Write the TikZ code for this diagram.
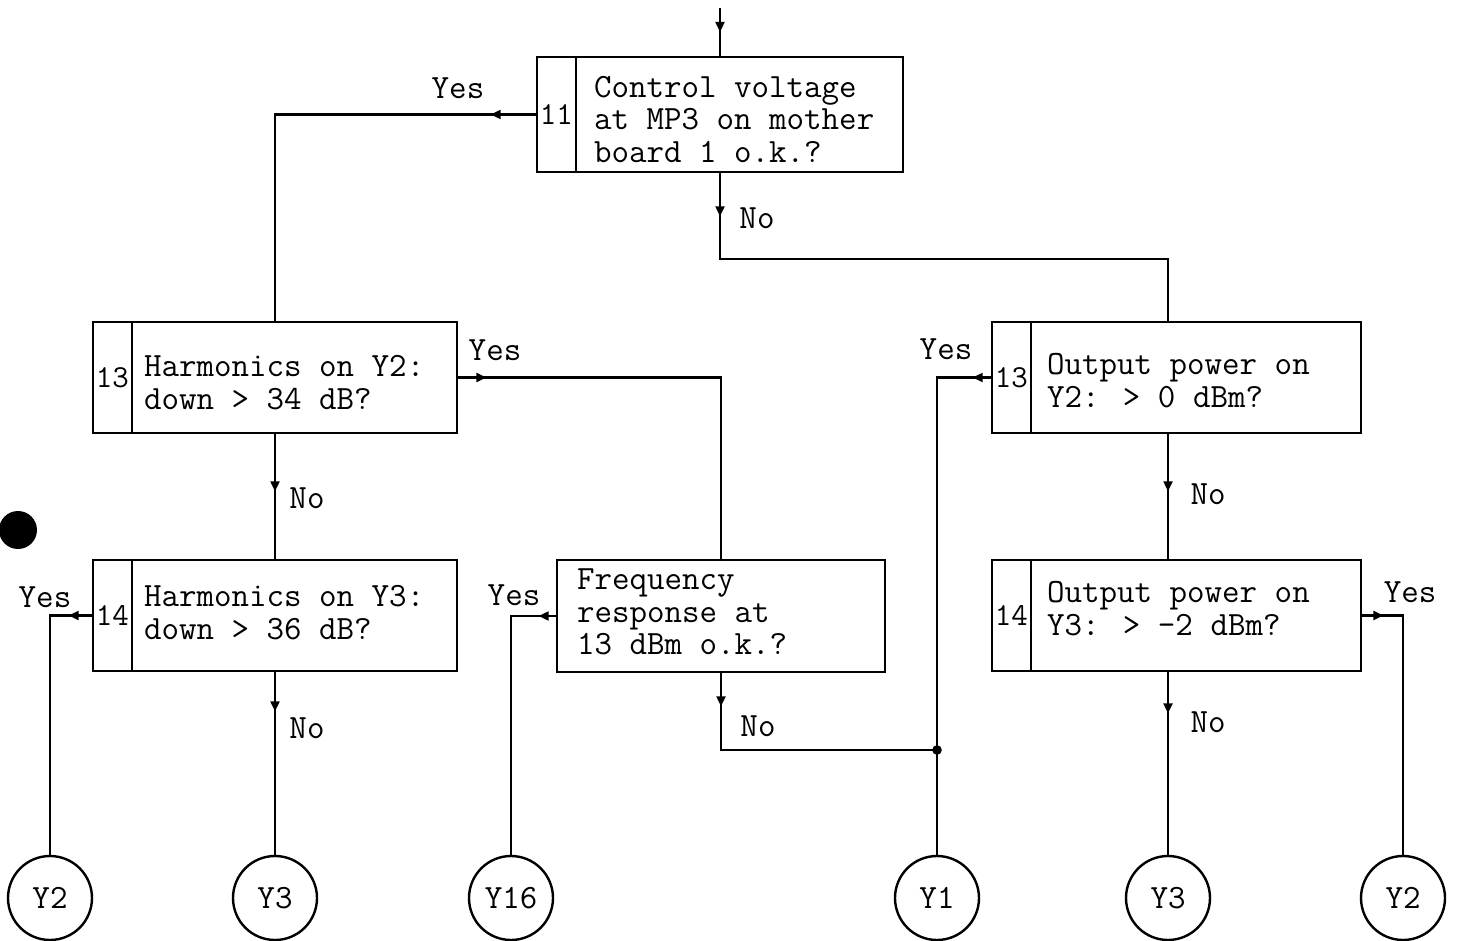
\documentclass[tikz,border=0pt]{standalone}
\usepackage{fontspec}
\usetikzlibrary{arrows.meta,decorations.markings,calc}
\begin{document}
\begin{tikzpicture}[x=0.5pt,y=-0.5pt,
  every node/.style={font=\ttfamily\fontsize{17pt}{16.25pt}\selectfont},
  qbox/.style={draw, line width=1.3pt, inner sep=0pt, minimum height=55.5pt},
  numcell/.style={draw, line width=1.1pt, inner sep=0pt, minimum width=19.5pt, anchor=north west, font=\ttfamily\fontsize{16pt}{16pt}\selectfont},
  qtext/.style={align=left, inner sep=0pt, anchor=west},
  term/.style={draw, circle, line width=1.2pt, minimum size=42pt, inner sep=0pt, font=\ttfamily\fontsize{17pt}{17pt}\selectfont},
  lbl/.style={inner sep=0pt},
  conn/.style={line width=1.1pt},
  tipat/.style={postaction={decorate}, decoration={markings, mark=at position #1 with {\arrow{Triangle[length=5pt,width=4.5pt]}}}},
]
\useasboundingbox (0,0) rectangle (1457,941);

% boxes
\node[qbox, minimum width=183pt, minimum height=57.5pt] (b11) at (720,114.5) {};
\node[numcell, minimum height=57.5pt] (n11) at (b11.north west) {11};
\node[qtext] (q11) at ($(b11.west)+(58,5)$) {Control voltage\\at MP3 on mother\\board 1 o.k.?};

\node[qbox, minimum width=182pt] (b13l) at (275,377.5) {};
\node[numcell, minimum height=55.5pt] (n13l) at (b13l.north west) {13};
\node[qtext] (q13l) at ($(b13l.west)+(52,5)$) {Harmonics on Y2:\\down > 34 dB?};

\node[qbox, minimum width=182pt] (b14l) at (275,615.5) {};
\node[numcell, minimum height=55.5pt] (n14l) at (b14l.north west) {14};
\node[qtext] (q14l) at ($(b14l.west)+(52,-3)$) {Harmonics on Y3:\\down > 36 dB?};

\node[qbox, minimum width=164pt, minimum height=56pt] (bf) at (721,616) {};
\node[qtext] (qf) at ($(bf.west)+(21,-4)$) {Frequency\\response at\\13 dBm o.k.?};

\node[qbox, minimum width=184.5pt] (b13r) at (1176.5,377.5) {};
\node[numcell, minimum height=55.5pt] (n13r) at (b13r.north west) {13};
\node[qtext] (q13r) at ($(b13r.west)+(56,3)$) {Output power on\\Y2: > 0 dBm?};

\node[qbox, minimum width=184.5pt] (b14r) at (1176.5,615.5) {};
\node[numcell, minimum height=55.5pt] (n14r) at (b14r.north west) {14};
\node[qtext] (q14r) at ($(b14r.west)+(56,-7)$) {Output power on\\Y3: > -2 dBm?};

% terminals
\node[term] (c2l) at (50,898) {Y2};
\node[term] (c3l) at (275,898) {Y3};
\node[term] (c16) at (511,898) {Y16};
\node[term] (c1) at (937,898) {Y1};
\node[term] (c3r) at (1168,898) {Y3};
\node[term] (c2r) at (1403,898) {Y2};

\coordinate (entry) at (720,8);
\coordinate (j) at (937,750);

% connectors
\draw[conn, tipat=12pt] (entry) -- (b11.north);
\draw[conn, tipat=22.5pt] (b11.west) -| (b13l.north);
\draw[conn, tipat=21.5pt] (b11.south) -- ++(0,86) -| (b13r.north -| c3r.north);
\draw[conn, tipat=28.5pt] (b13l.south) -- (b14l.north);
\draw[conn, tipat=14pt] (b13l.east) -| (bf.north);
\draw[conn, tipat=11.5pt] (b14l.west) -| (c2l.north);
\draw[conn, tipat=19.5pt] (b14l.south) -- (c3l.north);
\draw[conn, tipat=8.5pt] (bf.west) -| (c16.north);
\draw[conn, tipat=16.5pt] (bf.south) |- (j);
\draw[conn, tipat=9pt] (b13r.west) -| (c1.north);
\draw[conn, tipat=28.5pt] (b13r.south -| c3r.north) -- (b14r.north -| c3r.north);
\draw[conn, tipat=10.5pt] (b14r.east) -| (c2r.north);
\draw[conn, tipat=20.5pt] (b14r.south -| c3r.north) -- (c3r.north);
\fill (j) circle[radius=2.4pt];

% labels
\node[lbl] (y11) at (458,88) {Yes};
\node[lbl] (n11l) at (757,218) {No};
\node[lbl] (n13ll) at (307,498) {No};
\node[lbl] (y13l) at (495,350) {Yes};
\node[lbl] (y14l) at (45,597) {Yes};
\node[lbl] (n14ll) at (307,728) {No};
\node[lbl] (yf) at (514,595) {Yes};
\node[lbl] (nf) at (758,726) {No};
\node[lbl] (y13r) at (946,349) {Yes};
\node[lbl] (n13rl) at (1208,494) {No};
\node[lbl] (y14r) at (1410,592) {Yes};
\node[lbl] (n14rl) at (1208,722) {No};

% punch mark
\fill (18,530) circle[radius=9.5pt];
\end{tikzpicture}
\end{document}
